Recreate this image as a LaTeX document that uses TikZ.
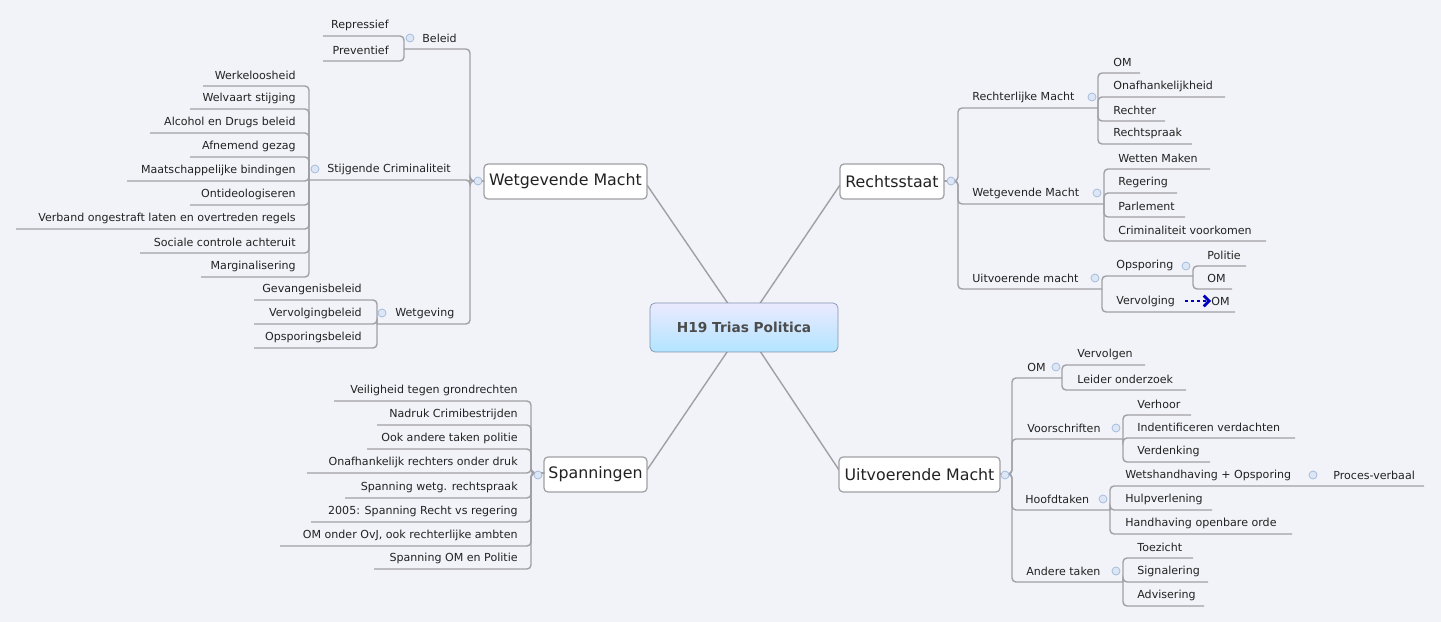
\documentclass[tikz,border=0pt]{standalone}
\usepackage{fontspec}
\setmainfont{DejaVu Sans}
\usetikzlibrary{arrows.meta}
\definecolor{bg}{HTML}{F2F3F8}
\definecolor{ln}{HTML}{A0A0A4}
\definecolor{tx}{HTML}{222222}
\definecolor{mk}{HTML}{DCE6F4}
\definecolor{mkd}{HTML}{9FB8DC}
\begin{document}
\begin{tikzpicture}[x=0.02cm,y=-0.02cm,
  ln/.style={draw=ln,line width=0.8pt,rounded corners=0.08cm},
  lf/.style={inner sep=0pt,text=tx,font=\fontsize{6.3}{7}\selectfont},
  topic/.style={draw=ln,fill=white,rounded corners=0.08cm,line width=0.7pt,text=tx,font=\fontsize{9}{10}\selectfont,inner sep=0pt},
  mkr/.style={circle,draw=mkd,fill=mk,minimum size=0.16cm,inner sep=0pt,line width=0.4pt}]
\fill[bg] (0,0) rectangle (1441,622);
\useasboundingbox (0,0) rectangle (1441,622);
% central connectors
\coordinate (c) at (744,327);
\draw[ln] (c) -- (647,185);
\draw[ln] (c) -- (840,185);
\draw[ln] (c) -- (647,470);
\draw[ln] (c) -- (839,470);
\node[draw=mkd!80!black,rounded corners=0.1cm,top color=blue!8!white,bottom color=blue!35!cyan!30!white,minimum width=3.76cm,minimum height=0.98cm,font=\bfseries\fontsize{7.8}{9}\selectfont,text=black!70] (root) at (744,327.5) {H19 Trias Politica};
\node[topic,minimum width=3.26cm,minimum height=0.7cm] (wm) at (565.5,181.5) {Wetgevende Macht};
\node[topic,minimum width=2.08cm,minimum height=0.7cm] (rs) at (892,181.5) {Rechtsstaat};
\node[topic,minimum width=2.06cm,minimum height=0.7cm] (sp) at (595.5,474.5) {Spanningen};
\node[topic,minimum width=3.22cm,minimum height=0.7cm] (um) at (919.5,474.5) {Uitvoerende Macht};

% ===== Wetgevende Macht (left)
\foreach \y/\l in {49/404,180/309,324/377} \draw[ln] (484,181) -- (470,181) |- (\l,\y);
\node[lf,anchor=west] at (422,38) {Beleid};
\node[lf,anchor=west] at (327,169) {Stijgende Criminaliteit};
\node[lf,anchor=west] at (395,313) {Wetgeving};
\foreach \y/\l in {36/323,61/323} \draw[ln] (404,49) |- (\l,\y);
\node[lf,anchor=east] at (389,25) {Repressief};
\node[lf,anchor=east] at (389,50) {Preventief};
\foreach \y/\l/\t in {86/203/Werkeloosheid,109/190/Welvaart stijging,133/150/Alcohol en Drugs beleid,157/190/Afnemend gezag,181/127/Maatschappelijke bindingen,205/190/Ontideologiseren,229/16/Verband ongestraft laten en overtreden regels,253/140/Sociale controle achteruit,277/201/Marginalisering}
 {\draw[ln] (309,180) |- (\l,\y); \node[lf,anchor=east] at (296,\y-11) {\t};}
\foreach \y/\t in {300/Gevangenisbeleid,324/Vervolgingbeleid,348/Opsporingsbeleid}
 {\draw[ln] (377,324) |- (254,\y); \node[lf,anchor=east] at (362,\y-11) {\t};}
\node[mkr] at (478,181) {}; \node[mkr] at (410,38) {}; \node[mkr] at (315,169) {}; \node[mkr] at (382,313) {};

% ===== Rechtsstaat
\foreach \y/\r in {108/1098,204/1104,289/1102} \draw[ln] (944,181) -- (958,181) |- (\r,\y);
\node[lf,anchor=west] at (972,97) {Rechterlijke Macht};
\node[lf,anchor=west] at (972,193) {Wetgevende Macht};
\node[lf,anchor=west] at (972,278) {Uitvoerende macht};
\foreach \y/\r/\t in {73/1140/OM,97/1225/Onafhankelijkheid,121/1165/Rechter,144/1192/Rechtspraak}
 {\draw[ln] (1098,108) |- (\r,\y); \node[lf,anchor=west] at (1113,\y-11) {\t};}
\foreach \y/\r/\t in {169/1210/Wetten Maken,193/1177/Regering,217/1185/Parlement,241/1266/Criminaliteit voorkomen}
 {\draw[ln] (1104,204) |- (\r,\y); \node[lf,anchor=west] at (1118,\y-11) {\t};}
\foreach \y/\r in {276/1193,312/1235} \draw[ln] (1102,289) |- (\r,\y);
\node[lf,anchor=west] at (1116,265) {Opsporing};
\node[lf,anchor=west] (vv) at (1116,301) {Vervolging};
\node[lf,anchor=west] (vom) at (1211,301) {OM};
\draw[blue!75!black,line width=1.6pt,dash pattern=on 1.6pt off 1.8pt,-{Straight Barb[length=3pt]}] (1185,301) -- (vom.west);
\foreach \y/\r/\t in {266/1246/Politie,289/1232/OM}
 {\draw[ln] (1193,276) |- (\r,\y); \node[lf,anchor=west] at (1207,\y-11) {\t};}
\node[mkr] at (951,181) {}; \node[mkr] at (1092,97) {}; \node[mkr] at (1097,193) {}; \node[mkr] at (1095,278) {}; \node[mkr] at (1186,266) {};

% ===== Spanningen
\foreach \y/\l/\t in {401/334/Veiligheid tegen grondrechten,425/377/Nadruk Crimibestrijden,449/367/Ook andere taken politie,473/307/Onafhankelijk rechters onder druk,498/345/Spanning wetg. rechtspraak,522/311/{2005: Spanning Recht vs regering},546/280/{OM onder OvJ, ook rechterlijke ambten},569/374/Spanning OM en Politie}
 {\draw[ln] (544,473) -- (531,473) |- (\l,\y); \node[lf,anchor=east] at (518,\y-11) {\t};}
\node[mkr] at (538,475) {};

% ===== Uitvoerende Macht
\foreach \y/\r in {378/1062,439/1123,510/1110,582/1123} \draw[ln] (1000,474) -- (1012,474) |- (\r,\y);
\node[lf,anchor=west] at (1027,367) {OM};
\node[lf,anchor=west] at (1027,428) {Voorschriften};
\node[lf,anchor=west] at (1025,499) {Hoofdtaken};
\node[lf,anchor=west] at (1026,571) {Andere taken};
\foreach \y/\r/\t in {365/1145/Vervolgen,390/1186/Leider onderzoek}
 {\draw[ln] (1062,378) |- (\r,\y); \node[lf,anchor=west] at (1077,\y-11) {\t};}
\foreach \y/\r/\t in {415/1191/Verhoor,438/1295/Indentificeren verdachten,462/1210/Verdenking}
 {\draw[ln] (1123,439) |- (\r,\y); \node[lf,anchor=west] at (1137,\y-11) {\t};}
\foreach \y/\r/\t in {486/1424/Wetshandhaving + Opsporing,510/1212/Hulpverlening,534/1292/Handhaving openbare orde}
 {\draw[ln] (1110,510) |- (\r,\y); \node[lf,anchor=west] at (1125,\y-11) {\t};}
\node[lf,anchor=west] at (1333,475) {Proces-verbaal};
\foreach \y/\r/\t in {558/1193/Toezicht,582/1208/Signalering,606/1204/Advisering}
 {\draw[ln] (1123,582) |- (\r,\y); \node[lf,anchor=west] at (1137,\y-11) {\t};}
\node[mkr] at (1005,475) {}; \node[mkr] at (1056,367) {}; \node[mkr] at (1116,428) {}; \node[mkr] at (1103,499) {}; \node[mkr] at (1313,475) {}; \node[mkr] at (1116,571) {};
\end{tikzpicture}
\end{document}
